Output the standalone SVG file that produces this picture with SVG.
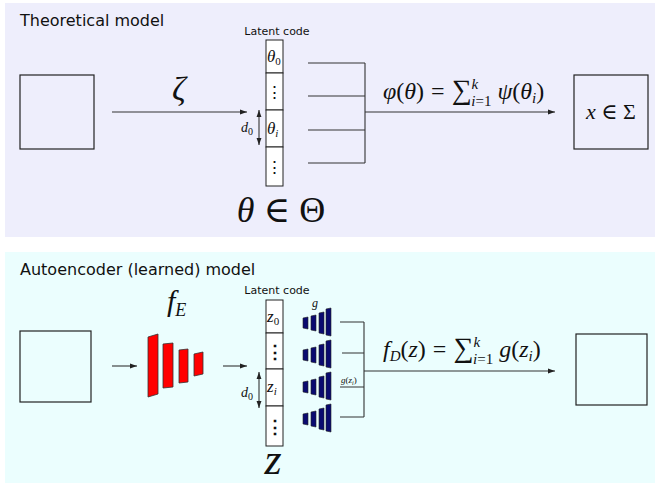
<svg xmlns="http://www.w3.org/2000/svg" width="655" height="483" viewBox="0 0 655 483">
<style>
.t{font-family:"DejaVu Sans","Liberation Sans",sans-serif;fill:#111}
.m{font-family:"Liberation Serif","DejaVu Serif",serif;fill:#111}
.i{font-style:italic}
.box{fill:none;stroke:#222;stroke-width:1.2}
.cell{fill:#fff;stroke:#222;stroke-width:1}
.ln{fill:none;stroke:#333;stroke-width:1.1}
.red{fill:#ff0000;stroke:#333;stroke-width:0.8}
.navy{fill:#0a0a70;stroke:#222;stroke-width:0.6}
</style>
<defs>
<marker id="ah" viewBox="0 0 10 10" refX="10" refY="5" markerWidth="7" markerHeight="7" orient="auto-start-reverse" markerUnits="userSpaceOnUse">
<path d="M0,1.5 L10,5 L0,8.5 z" fill="#222"/>
</marker>
<g id="dec">
<polygon class="navy" points="0,-4 5,-5 5,7 0,6"/>
<polygon class="navy" points="8,-6 13,-7 13,9 8,8"/>
<polygon class="navy" points="16,-9 21,-10 21,12 16,11"/>
<polygon class="navy" points="23,-13 28,-14 28,14 23,13"/>
</g>
</defs>

<g id="panel-theoretical">
<rect x="5" y="3" width="650" height="234" fill="#eeeefc"/>
<text class="t" x="20" y="26" font-size="16">Theoretical model</text>
</g>
<g id="panel-autoencoder">
<rect x="5" y="252" width="650" height="231" fill="#ebfefe"/>
<text class="t" x="20" y="275" font-size="16">Autoencoder (learned) model</text>
</g>

<g id="input-top"><rect class="box" x="20" y="75" width="74" height="74"/></g>
<g id="output-top">
<rect class="box" x="574" y="75" width="74" height="74"/>
<text class="m" x="611" y="119" font-size="22" text-anchor="middle"><tspan class="i">x</tspan> ∈ Σ</text>
</g>

<g id="latent-top">
<text class="t" x="277" y="35" font-size="11" text-anchor="middle">Latent code</text>
<rect class="cell" x="266" y="40" width="17" height="33"/>
<rect class="cell" x="266" y="73" width="17" height="37"/>
<rect class="cell" x="266" y="110" width="17" height="37"/>
<rect class="cell" x="266" y="147" width="17" height="39"/>
<text class="m" x="267" y="62" font-size="17"><tspan class="i">θ</tspan><tspan font-size="11" dy="3">0</tspan></text>
<text class="m" x="274.5" y="98" font-size="17" text-anchor="middle">⋮</text>
<text class="m" x="267" y="134" font-size="17"><tspan class="i">θ</tspan><tspan class="i" font-size="11" dy="3">i</tspan></text>
<text class="m" x="274.5" y="173" font-size="17" text-anchor="middle">⋮</text>
<text class="m" x="241" y="132" font-size="14"><tspan class="i">d</tspan><tspan font-size="10" dy="3">0</tspan></text>
<text class="m" x="281" y="222" font-size="36" text-anchor="middle"><tspan class="i">θ</tspan> ∈ Θ</text>
</g>

<g id="encoder">
<text class="m" x="167" y="311" font-size="30"><tspan class="i">f</tspan><tspan class="i" font-size="18" dy="5">E</tspan></text>
<polygon class="red" points="148,337 158,334 158,394 148,397"/>
<polygon class="red" points="163,344 173,343 173,387 163,388"/>
<polygon class="red" points="179,350 188,349 188,382 179,383"/>
<polygon class="red" points="194,354 203,352 203,374 194,376"/>
</g>

<g id="input-bottom"><rect class="box" x="20" y="331" width="71" height="71"/></g>
<g id="output-bottom"><rect class="box" x="576" y="334" width="71" height="71"/></g>

<g id="latent-bottom">
<text class="t" x="277" y="294" font-size="11" text-anchor="middle">Latent code</text>
<rect class="cell" x="266" y="300" width="17" height="33"/>
<rect class="cell" x="266" y="333" width="17" height="36"/>
<rect class="cell" x="266" y="369" width="17" height="37"/>
<rect class="cell" x="266" y="406" width="17" height="40"/>
<text class="m" x="267" y="322" font-size="17"><tspan class="i">z</tspan><tspan font-size="11" dy="3">0</tspan></text>
<text class="m" x="274.5" y="358" font-size="18" font-weight="bold" text-anchor="middle">⋮</text>
<text class="m" x="267" y="392" font-size="17"><tspan class="i">z</tspan><tspan class="i" font-size="11" dy="3">i</tspan></text>
<text class="m" x="274.5" y="433" font-size="18" font-weight="bold" text-anchor="middle">⋮</text>
<text class="m" x="241" y="397" font-size="14"><tspan class="i">d</tspan><tspan font-size="10" dy="3">0</tspan></text>
<text class="m i" x="273" y="474" font-size="44" text-anchor="middle">z</text>
</g>

<g id="decoders">
<text class="m i" x="315" y="307" font-size="12" text-anchor="middle">g</text>
<use href="#dec" x="303" y="322"/>
<use href="#dec" x="303" y="354"/>
<use href="#dec" x="303" y="386"/>
<use href="#dec" x="303" y="418"/>
<text class="m" x="341" y="383" font-size="9"><tspan class="i">g</tspan>(<tspan class="i">z</tspan><tspan class="i" font-size="6" dy="1.5">i</tspan><tspan dy="-1.5">)</tspan></text>
</g>

<g id="connectors">
<line class="ln" x1="112" y1="112" x2="247" y2="112" marker-end="url(#ah)"/>
<text class="m i" x="179" y="100" font-size="34" text-anchor="middle">ζ</text>
<line class="ln" x1="259" y1="110" x2="259" y2="145" marker-start="url(#ah)" marker-end="url(#ah)"/>
<path class="ln" d="M308,63 H365 M308,96 H365 M308,130 H365 M308,163 H365 M365,63 V163"/>
<line class="ln" x1="365" y1="112" x2="555" y2="112" marker-end="url(#ah)"/>
<text class="m" x="383" y="99" font-size="24"><tspan class="i">φ</tspan>(<tspan class="i">θ</tspan>)<tspan dx="7">=</tspan><tspan font-size="28" dx="7">∑</tspan><tspan class="i" font-size="15" dy="-10">k</tspan><tspan class="i" font-size="15" dx="-7" dy="17">i</tspan><tspan font-size="15">=1</tspan><tspan class="i" dx="6" dy="-7">ψ</tspan>(<tspan class="i">θ</tspan><tspan class="i" font-size="15" dy="4">i</tspan><tspan dy="-4">)</tspan></text>

<line class="ln" x1="112" y1="366" x2="137" y2="366" marker-end="url(#ah)"/>
<line class="ln" x1="223" y1="366" x2="247" y2="366" marker-end="url(#ah)"/>
<line class="ln" x1="259" y1="372" x2="259" y2="408" marker-start="url(#ah)" marker-end="url(#ah)"/>
<path class="ln" d="M340,322 H364 M342,353 H364 M340,387 H364 M340,417 H364 M364,322 V417" stroke="#444"/>
<line class="ln" x1="364" y1="371" x2="555" y2="371" marker-end="url(#ah)"/>
<text class="m" x="383" y="357" font-size="24"><tspan class="i">f</tspan><tspan class="i" font-size="15" dy="4">D</tspan><tspan dy="-4">(</tspan><tspan class="i">z</tspan>)<tspan dx="7">=</tspan><tspan font-size="28" dx="7">∑</tspan><tspan class="i" font-size="15" dy="-10">k</tspan><tspan class="i" font-size="15" dx="-7" dy="17">i</tspan><tspan font-size="15">=1</tspan><tspan class="i" dx="6" dy="-7">g</tspan>(<tspan class="i">z</tspan><tspan class="i" font-size="15" dy="4">i</tspan><tspan dy="-4">)</tspan></text>
</g>
</svg>
